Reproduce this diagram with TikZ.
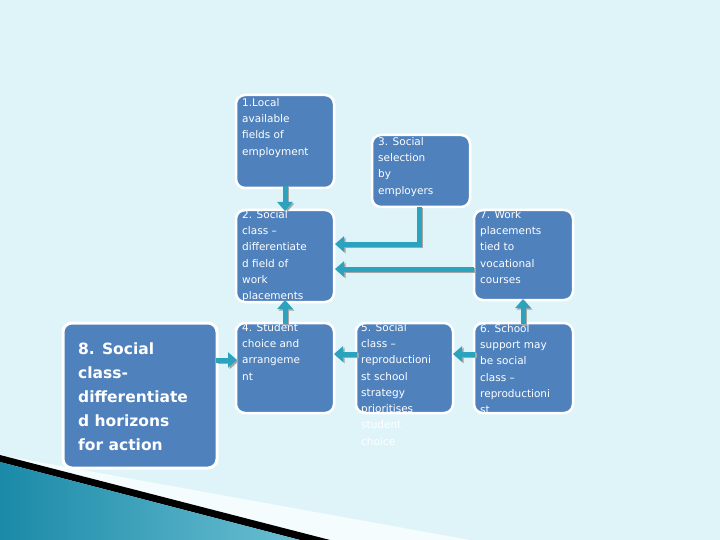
\documentclass[tikz,border=0pt]{standalone}
\usepackage{fontspec}
\setmainfont{DejaVu Sans}
\usetikzlibrary{arrows.meta}
\definecolor{bg}{HTML}{DFF4F9}
\definecolor{boxc}{HTML}{4F81BD}
\definecolor{arr}{HTML}{2BA3BF}
\definecolor{teal1}{HTML}{1A8AA8}
\tikzset{
 box/.style={draw=white,line width=2.5pt,fill=boxc,rounded corners=9pt},
 txt/.style={anchor=north west,text=white,align=left,inner sep=0pt,font=\fontsize{10.5}{16.3}\selectfont},
 bigtxt/.style={anchor=north west,text=white,align=left,inner sep=0pt,font=\fontsize{15.5}{24}\selectfont\bfseries},
 flow/.style={arr,line width=5pt,-{Triangle[width=15pt,length=9pt]}},
 shad/.style={gray!70,line width=5pt,-{Triangle[width=15pt,length=9pt]}},
}
\begin{document}
\begin{tikzpicture}[x=1pt,y=-1pt]
\fill[bg] (0,0) rectangle (720,540);
\useasboundingbox (0,0) rectangle (720,540);
% bottom-left decoration
\fill[white!70!bg] (0,455) -- (470,540) -- (0,540) -- cycle;
\fill[black] (0,455) -- (330,540) -- (300,540) -- (0,462) -- cycle;
\shade[left color=teal1,right color=arr!70] (0,462) -- (300,540) -- (0,540) -- cycle;
% boxes
\draw[box] (236,95) rectangle (334,188);
\draw[box] (372,135) rectangle (470,207);
\draw[box] (236,210) rectangle (334,302);
\draw[box] (474,210) rectangle (573,300);
\draw[box,line width=3pt] (63,323) rectangle (217,468);
\draw[box] (236,323) rectangle (334,413);
\draw[box] (356,323) rectangle (453,413);
\draw[box] (474,323) rectangle (573,413);
% anchors
\coordinate (b1) at (285,186); \coordinate (t2) at (285,211);
\coordinate (b4t) at (285,324); \coordinate (b2b) at (285,300);
\coordinate (b6t) at (523,324); \coordinate (b7b) at (523,299);
\coordinate (l5) at (357,354); \coordinate (r4) at (334,354);
\coordinate (l6) at (475,354); \coordinate (r5) at (453,354);
\coordinate (r8) at (216,360); \coordinate (l4) at (237,360);
\coordinate (b3) at (419,207); \coordinate (c3) at (419,244); \coordinate (r2a) at (335,244);
\coordinate (l7) at (474,269); \coordinate (r2b) at (335,269);
% arrows with shadows
\foreach \a/\b in {b1/t2,b4t/b2b,b6t/b7b,l5/r4,l6/r5,r8/l4,l7/r2b}{
  \draw[shad,transform canvas={xshift=1.5pt,yshift=-1.5pt}] (\a) -- (\b);
  \draw[flow] (\a) -- (\b);}
\draw[shad,transform canvas={xshift=1.5pt,yshift=-1.5pt}] (b3) -- (c3) -- (r2a);
\draw[flow] (b3) -- (c3) -- (r2a);
% texts
\node[txt] (n1) at (242,98) {1.Local\\available\\fields of\\employment};
\node[txt] (n3) at (378,137) {3. Social\\selection\\by\\employers};
\node[txt] (n2) at (242,210) {2. Social\\class –\\differentiate\\d field of\\work\\placements};
\node[txt] (n7) at (480,210) {7. Work\\placements\\tied to\\vocational\\courses};
\node[bigtxt] (n8) at (78,343) {8. Social\\class-\\differentiate\\d horizons\\for action};
\node[txt] (n4) at (242,323) {4. Student\\choice and\\arrangeme\\nt};
\node[txt] (n5) at (361,323) {5. Social\\class –\\reproductioni\\st school\\strategy\\prioritises\\student\\choice};
\node[txt] (n6) at (480,324) {6. School\\support may\\be social\\class –\\reproductioni\\st};
\end{tikzpicture}
\end{document}
